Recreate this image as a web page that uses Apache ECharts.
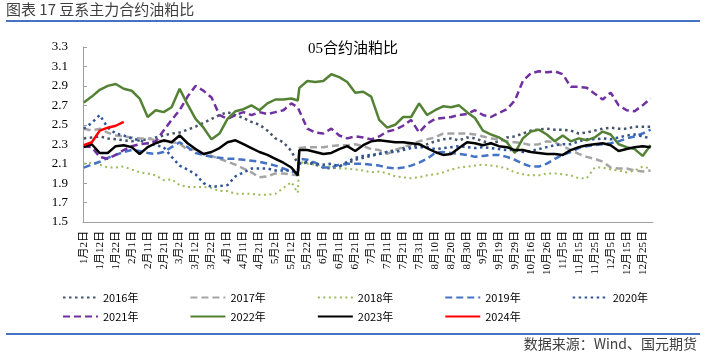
<!DOCTYPE html>
<html>
<head>
<meta charset="utf-8">
<script src="https://cdn.jsdelivr.net/npm/echarts@6/dist/echarts.min.js"></script>
<style>
html, body { margin: 0; padding: 0; background: #fff; }
#chart { width: 706px; height: 354px; }
</style>
</head>
<body>
<div id="chart"></div>
<script>
// 横轴：日历日期（闰年），去掉元旦、五一、国庆
const monthDays = [31, 29, 31, 30, 31, 30, 31, 31, 30, 31, 30, 31]
const skipDays = ['1-1', '5-1', '10-1', '10-2', '10-3', '10-4', '10-5', '10-6', '10-7']
const categories = []
monthDays.forEach((n, m) => {
    for (let d = 1; d <= n; d++) {
        if (skipDays.indexOf((m + 1) + '-' + d) < 0) categories.push((m + 1) + '月' + d + '日')
    }
})

// 取值位置：每5天一个点，另加换月(5月中旬)前一天
const sampleIdx = []
for (let i = 0; i <= 130; i += 5) sampleIdx.push(i)
sampleIdx.push(134)
for (let i = 135; i <= 355; i += 5) sampleIdx.push(i)

const yTicks = { min: 1.5, max: 3.3, step: 0.2 }

const y2016 = [2.36, 2.37, 2.38, 2.36, 2.35, 2.34, 2.33, 2.34, 2.35, 2.37, 2.39, 2.41, 2.42, 2.45, 2.48, 2.52, 2.56, 2.60, 2.63, 2.60, 2.57, 2.53, 2.50, 2.44, 2.36, 2.32, 2.23,
    2.10,
    2.12, 2.11, 2.09, 2.06, 2.05, 2.07, 2.10, 2.14, 2.16, 2.18, 2.20, 2.22, 2.24, 2.26, 2.28, 2.29, 2.30, 2.33, 2.35, 2.36,
    2.34, 2.37, 2.36, 2.33, 2.31, 2.33, 2.37, 2.38, 2.41, 2.44, 2.45, 2.46, 2.45, 2.45, 2.44, 2.41, 2.42, 2.44, 2.46, 2.47,
    2.46, 2.46, 2.48, 2.48, 2.48]
const y2017 = [2.46, 2.44, 2.46, 2.42, 2.39, 2.38, 2.37, 2.36, 2.36, 2.34, 2.33, 2.32, 2.31, 2.24, 2.25, 2.20, 2.18, 2.15, 2.12, 2.09, 2.05, 2.01, 1.96, 1.97, 2.00, 2.00, 1.99,
    1.98,
    2.26, 2.27, 2.27, 2.27, 2.28, 2.29, 2.29, 2.30, 2.28, 2.25, 2.24, 2.20, 2.24, 2.27, 2.30, 2.33, 2.35, 2.37, 2.41, 2.41,
    2.41, 2.41, 2.40, 2.38, 2.36, 2.35, 2.33, 2.32, 2.31, 2.29, 2.30, 2.33, 2.32, 2.28, 2.24, 2.20, 2.17, 2.15, 2.12, 2.06,
    2.05, 2.05, 2.03, 2.02, 2.03]
const y2018 = [2.10, 2.11, 2.09, 2.06, 2.06, 2.07, 2.04, 2.01, 2.00, 1.98, 1.93, 1.94, 1.88, 1.86, 1.86, 1.86, 1.85, 1.82, 1.82, 1.79, 1.79, 1.79, 1.78, 1.78, 1.79, 1.85, 1.91,
    1.80,
    2.12, 2.10, 2.09, 2.08, 2.07, 2.05, 2.05, 2.04, 2.03, 2.01, 2.02, 2.00, 1.97, 1.96, 1.95, 1.96, 1.98, 1.99, 2.01, 2.04,
    2.06, 2.07, 2.08, 2.09, 2.08, 2.07, 2.05, 2.01, 1.99, 1.98, 1.98, 2.00, 2.00, 1.99, 1.98, 1.95, 1.95, 2.06, 2.06, 2.04,
    2.03, 2.01, 2.03, 2.07, 2.05]
const y2019 = [2.06, 2.09, 2.12, 2.16, 2.19, 2.22, 2.24, 2.23, 2.21, 2.20, 2.22, 2.27, 2.32, 2.27, 2.21, 2.19, 2.17, 2.16, 2.15, 2.15, 2.14, 2.13, 2.12, 2.10, 2.08, 2.05, 2.02,
    2.01,
    2.15, 2.14, 2.11, 2.06, 2.06, 2.09, 2.10, 2.10, 2.10, 2.09, 2.08, 2.06, 2.05, 2.06, 2.08, 2.11, 2.15, 2.21, 2.22, 2.21,
    2.20, 2.19, 2.17, 2.18, 2.19, 2.19, 2.17, 2.14, 2.10, 2.07, 2.07, 2.10, 2.15, 2.19, 2.22, 2.26, 2.28, 2.29, 2.30, 2.31,
    2.33, 2.36, 2.38, 2.41, 2.45]
const y2020 = [2.46, 2.52, 2.60, 2.47, 2.41, 2.39, 2.36, 2.34, 2.31, 2.29, 2.27, 2.17, 2.08, 2.04, 1.99, 1.90, 1.86, 1.87, 1.88, 1.97, 2.01, 2.05, 2.05, 2.05, 2.03, 2.03, 2.03,
    2.03,
    2.10, 2.12, 2.10, 2.09, 2.10, 2.07, 2.12, 2.16, 2.18, 2.19, 2.20, 2.22, 2.22, 2.24, 2.26, 2.27, 2.27, 2.25, 2.26, 2.27,
    2.28, 2.27, 2.26, 2.27, 2.26, 2.25, 2.24, 2.24, 2.22, 2.23, 2.25, 2.27, 2.29, 2.30, 2.30, 2.33, 2.35, 2.35, 2.36, 2.35,
    2.37, 2.39, 2.40, 2.38, 2.36]
const y2021 = [2.28, 2.27, 2.17, 2.15, 2.19, 2.24, 2.28, 2.30, 2.31, 2.33, 2.44, 2.55, 2.65, 2.79, 2.90, 2.85, 2.78, 2.60, 2.56, 2.60, 2.63, 2.60, 2.63, 2.61, 2.63, 2.65, 2.72,
    2.68,
    2.66, 2.46, 2.42, 2.41, 2.46, 2.39, 2.36, 2.38, 2.37, 2.35, 2.38, 2.43, 2.45, 2.49, 2.55, 2.42, 2.51, 2.56, 2.57, 2.58,
    2.60, 2.61, 2.65, 2.60, 2.58, 2.62, 2.66, 2.75, 2.95, 3.03, 3.05, 3.04, 3.05, 3.02, 2.89, 2.89, 2.88, 2.82, 2.76, 2.83,
    2.70, 2.65, 2.64, 2.70, 2.77]
const y2022 = [2.73, 2.79, 2.86, 2.90, 2.92, 2.87, 2.85, 2.77, 2.58, 2.65, 2.63, 2.68, 2.87, 2.71, 2.56, 2.47, 2.35, 2.41, 2.56, 2.64, 2.66, 2.70, 2.65, 2.72, 2.76, 2.76, 2.77,
    2.75,
    2.88, 2.95, 2.94, 2.95, 3.02, 2.99, 2.94, 2.83, 2.84, 2.79, 2.55, 2.47, 2.50, 2.58, 2.58, 2.72, 2.60, 2.65, 2.69, 2.68,
    2.70, 2.63, 2.57, 2.44, 2.40, 2.37, 2.32, 2.21, 2.36, 2.43, 2.45, 2.40, 2.33, 2.39, 2.33, 2.36, 2.34, 2.37, 2.43, 2.40,
    2.30, 2.27, 2.25, 2.18, 2.29]
const y2023 = [2.27, 2.30, 2.21, 2.21, 2.28, 2.29, 2.27, 2.20, 2.27, 2.31, 2.34, 2.32, 2.39, 2.31, 2.25, 2.20, 2.22, 2.26, 2.32, 2.34, 2.30, 2.26, 2.22, 2.19, 2.15, 2.11, 2.06,
    1.98,
    2.24, 2.24, 2.22, 2.20, 2.21, 2.25, 2.28, 2.23, 2.29, 2.33, 2.34, 2.33, 2.32, 2.32, 2.31, 2.30, 2.26, 2.22, 2.19, 2.20,
    2.26, 2.32, 2.31, 2.29, 2.31, 2.28, 2.27, 2.24, 2.24, 2.22, 2.21, 2.20, 2.20, 2.19, 2.24, 2.27, 2.29, 2.30, 2.31, 2.29,
    2.23, 2.25, 2.27, 2.28, 2.27]
const y2024 = [2.29, 2.32, 2.44, 2.47, 2.49, 2.53]

const seriesDefs = [
    { name: '2016年', values: y2016, color: '#44546A', width: 2.5, dash: [2.5, 3.5] },
    { name: '2017年', values: y2017, color: '#A5A5A5', width: 2.5, dash: [7, 4] },
    { name: '2018年', values: y2018, color: '#9BBB59', width: 2, dash: [2, 3.5] },
    { name: '2019年', values: y2019, color: '#4472C4', width: 2.5, dash: [7, 4] },
    { name: '2020年', values: y2020, color: '#2F5597', width: 2.5, dash: [2.5, 3.5] },
    { name: '2021年', values: y2021, color: '#7030A0', width: 2.5, dash: [7, 4] },
    { name: '2022年', values: y2022, color: '#548235', width: 2.5, dash: 'solid' },
    { name: '2023年', values: y2023, color: '#000000', width: 2.5, dash: 'solid' },
    { name: '2024年', values: y2024, color: '#FF0000', width: 2.5, dash: 'solid' }
]

const serif = "'Liberation Serif', 'Noto Sans CJK SC', serif"
const sans = "'Noto Sans CJK SC', sans-serif"

// 图例：两行，只画线不画圆点
const legendBase = {
    left: 57, itemGap: 51, itemWidth: 35, itemHeight: 12,
    itemStyle: { opacity: 0 },
    textStyle: { fontFamily: sans, fontSize: 11, color: '#000' }
}

let myChart = echarts.init(document.getElementById('chart'))
myChart.setOption({
    animation: false,
    backgroundColor: '#fff',
    title: {
        text: '05合约油粕比',
        left: 'center',
        top: 37,
        textStyle: { fontFamily: serif, fontSize: 15, fontWeight: 'normal', color: '#000' }
    },
    graphic: [
        { type: 'text', left: 6, top: 2, style: { text: '图表 17 豆系主力合约油粕比', font: '15px ' + sans, fill: '#3F3F3F' } },
        { type: 'rect', shape: { x: 6, y: 20, width: 694, height: 2 }, style: { fill: '#4472C4' } },
        { type: 'rect', shape: { x: 6, y: 333, width: 694, height: 2 }, style: { fill: '#4472C4' } },
        { type: 'text', right: 9, top: 337, style: { text: '数据来源：Wind、国元期货', font: '14px ' + sans, fill: '#404040' } }
    ],
    legend: [
        Object.assign({ data: seriesDefs.slice(0, 5).map(s => s.name), top: 287 }, legendBase),
        Object.assign({ data: seriesDefs.slice(5).map(s => s.name), top: 306 }, legendBase)
    ],
    grid: { left: 83, right: 53, top: 47, bottom: 132 },
    xAxis: {
        type: 'category',
        data: categories,
        boundaryGap: true,
        axisLine: { lineStyle: { color: '#A0A0A0', width: 1 } },
        axisTick: { interval: 0, length: 3, lineStyle: { color: '#A0A0A0' } },
        axisLabel: {
            interval: 9, rotate: 90, margin: 9,
            fontFamily: serif, fontSize: 11, color: '#000'
        },
        splitLine: { show: false }
    },
    yAxis: {
        type: 'value',
        min: yTicks.min, max: yTicks.max, interval: yTicks.step,
        axisLine: { show: true, lineStyle: { color: '#A0A0A0' } },
        axisTick: { show: true, inside: true, length: 4, lineStyle: { color: '#A0A0A0' } },
        axisLabel: {
            margin: 15, fontFamily: serif, fontSize: 13, color: '#000',
            formatter: v => v.toFixed(1)
        },
        splitLine: { show: false }
    },
    series: seriesDefs.map(s => ({
        name: s.name,
        type: 'line',
        symbol: 'none',
        color: s.color,
        lineStyle: { color: s.color, width: s.width, type: s.dash },
        data: s.values.map((v, i) => [categories[sampleIdx[i]], v])
    }))
})
</script>
</body>
</html>
